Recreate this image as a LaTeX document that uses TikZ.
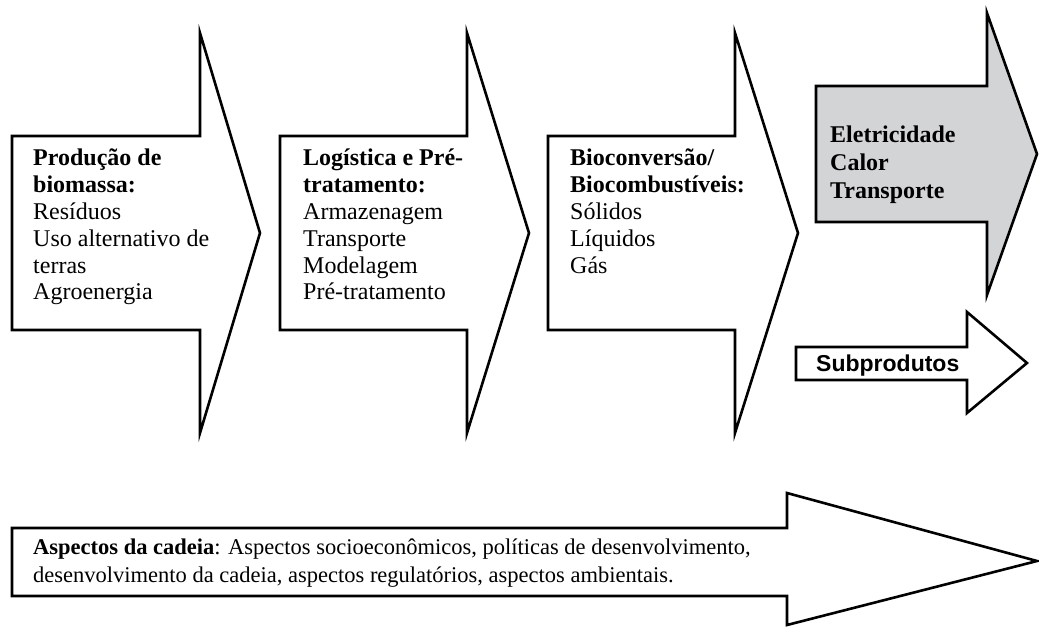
\documentclass[tikz,border=0pt]{standalone}
\usepackage{fontspec}
\setmainfont{Liberation Serif}
\newfontfamily\sansf{Liberation Sans}
\definecolor{boxgray}{RGB}{211,212,214}
\begin{document}
\begin{tikzpicture}[x=1pt,y=-1pt,
  arr/.style={draw=black,line width=2.6pt,line join=miter,fill=white},
  lbl/.style={anchor=north west,inner sep=0pt,align=left,font=\fontsize{24}{26.8}\selectfont}]
\useasboundingbox (0,0) rectangle (1039,627);
% arrows
\draw[arr] (12,136) -- (200,136) -- (200,33) -- (260,233) -- (200,433) -- (200,330) -- (12,330) -- cycle;
\draw[arr] (280,136) -- (467,136) -- (467,33) -- (529,233) -- (467,433) -- (467,330) -- (280,330) -- cycle;
\draw[arr] (548,136) -- (735,136) -- (735,33) -- (798,233) -- (735,433) -- (735,330) -- (548,330) -- cycle;
\draw[arr,fill=boxgray] (816,86) -- (987,86) -- (987,13) -- (1037,154) -- (987,295) -- (987,222) -- (816,222) -- cycle;
\draw[arr] (796,347) -- (967,347) -- (967,312) -- (1027,363) -- (967,413) -- (967,380) -- (796,380) -- cycle;
\draw[arr] (12,528) -- (787,528) -- (787,493) -- (1037,561) -- (787,625) -- (787,596) -- (12,596) -- cycle;
% texts
\node[lbl] (t1) at (33,149) {\textbf{Produção de}\\\textbf{biomassa:}\\Resíduos\\Uso alternativo de\\terras\\Agroenergia};
\node[lbl] (t2) at (303,149) {\textbf{Logística e Pré-}\\\textbf{tratamento:}\\Armazenagem\\Transporte\\Modelagem\\Pré-tratamento};
\node[lbl] (t3) at (570,149) {\textbf{Bioconversão/}\\\textbf{Biocombustíveis:}\\Sólidos\\Líquidos\\Gás};
\node[lbl,font=\fontsize{24}{28}\selectfont\bfseries] (t4) at (830,126) {Eletricidade\\Calor\\Transporte};
\node[anchor=base west,inner sep=0pt,font=\sansf\fontsize{23}{26}\selectfont\bfseries] (t5) at (816,371) {Subprodutos};
\node[lbl,font=\fontsize{22.5}{28}\selectfont] (t6) at (33,539) {\textbf{Aspectos da cadeia}: Aspectos socioeconômicos, políticas de desenvolvimento,\\desenvolvimento da cadeia, aspectos regulatórios, aspectos ambientais.};
\end{tikzpicture}
\end{document}
